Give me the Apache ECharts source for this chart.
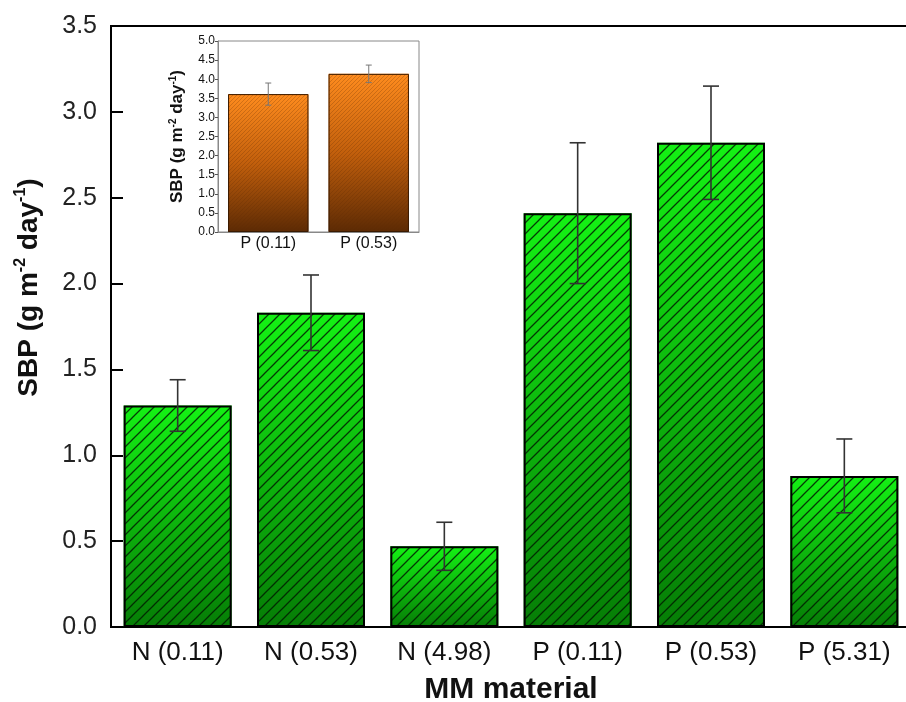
<!DOCTYPE html>
<html>
<head>
<meta charset="utf-8">
<script src="https://cdn.jsdelivr.net/npm/echarts@6/dist/echarts.min.js"></script>
<style>html,body{margin:0;padding:0;background:#fff}#c{width:906px;height:702px}</style>
</head>
<body>
<div id="c"></div>
<script>
// ---- data ----
var categories = ['N (0.11)', 'N (0.53)', 'N (4.98)', 'P (0.11)', 'P (0.53)', 'P (5.31)'];
var sbp = [1.29, 1.83, 0.47, 2.41, 2.82, 0.88];
var sbpErr = [0.15, 0.22, 0.14, 0.41, 0.33, 0.215];
var yTicks = ['0.0', '0.5', '1.0', '1.5', '2.0', '2.5', '3.0', '3.5'];

var insetCategories = ['P (0.11)', 'P (0.53)'];
var insetSbp = [3.61, 4.14];
var insetErr = [0.29, 0.23];

// ---- hatch patterns ----
function hatch(size, color, width) {
  var c = document.createElement('canvas');
  c.width = size; c.height = size;
  var g = c.getContext('2d');
  g.strokeStyle = color; g.lineWidth = width;
  g.beginPath();
  g.moveTo(-1, size + 1); g.lineTo(size + 1, -1);
  g.moveTo(-1, 1); g.lineTo(1, -1);
  g.moveTo(size - 1, size + 1); g.lineTo(size + 1, size - 1);
  g.stroke();
  return c;
}
var mainHatch = hatch(11, 'rgba(0,30,0,0.85)', 1.3);
var insetHatch = hatch(4, 'rgba(90,40,0,0.25)', 1);

function errRender(errArr, capHalf, color, lw) {
  return function (params, api) {
    var i = api.value(0);
    var v = api.value(1);
    var e = errArr[i];
    var hi = api.coord([i, v + e]);
    var lo = api.coord([i, v - e]);
    var st = {stroke: color, lineWidth: lw};
    return {
      type: 'group',
      children: [
        {type: 'line', shape: {x1: hi[0], y1: hi[1], x2: lo[0], y2: lo[1]}, style: st},
        {type: 'line', shape: {x1: hi[0] - capHalf, y1: hi[1], x2: hi[0] + capHalf, y2: hi[1]}, style: st},
        {type: 'line', shape: {x1: lo[0] - capHalf, y1: lo[1], x2: lo[0] + capHalf, y2: lo[1]}, style: st}
      ]
    };
  };
}

var FF = 'Liberation Sans, Arial, sans-serif';
var chart = echarts.init(document.getElementById('c'), null, {renderer: 'canvas'});
chart.setOption({
  animation: false,
  backgroundColor: '#fff',
  grid: [
    {left: 111, top: 26, width: 800, height: 601, show: true, borderColor: '#000', borderWidth: 2,
     backgroundColor: 'transparent', containLabel: false, outerBoundsMode: 'none'},
    {left: 218, top: 41, width: 201, height: 191, show: true, borderColor: '#888', borderWidth: 1,
     backgroundColor: '#fff', z: 10, containLabel: false, outerBoundsMode: 'none'}
  ],
  xAxis: [
    {
      type: 'category', gridIndex: 0, data: categories,
      axisLine: {lineStyle: {color: '#000', width: 2}},
      axisTick: {show: false},
      axisLabel: {fontFamily: FF, fontSize: 26, color: '#111', margin: 13},
      name: 'MM material', nameLocation: 'middle', nameGap: 48,
      nameTextStyle: {fontFamily: FF, fontSize: 30, fontWeight: 'bold', color: '#111'}
    },
    {
      type: 'category', gridIndex: 1, data: insetCategories, z: 11,
      axisLine: {lineStyle: {color: '#888', width: 1}},
      axisTick: {show: false},
      axisLabel: {fontFamily: FF, fontSize: 16, color: '#111', margin: 4}
    }
  ],
  yAxis: [
    {
      type: 'value', gridIndex: 0, min: 0, max: 3.5, interval: 0.5,
      axisLine: {show: true, lineStyle: {color: '#000', width: 2}},
      axisTick: {show: true, inside: true, length: 12, lineStyle: {color: '#000', width: 2}},
      splitLine: {show: false},
      axisLabel: {fontFamily: FF, fontSize: 25, color: '#222', margin: 14,
        formatter: function (v) { return yTicks[Math.round(v / 0.5)]; }},
      name: '{b|SBP (g m}{s|-2}{b| day}{s|-1}{b|)}', nameLocation: 'middle', nameGap: 66,
      nameTextStyle: {
        padding: [0, 0, 0, 78],
        rich: {
          b: {fontFamily: FF, fontSize: 28, fontWeight: 'bold', color: '#111', lineHeight: 32},
          s: {fontFamily: FF, fontSize: 16, fontWeight: 'bold', color: '#111', verticalAlign: 'top'}
        }
      }
    },
    {
      type: 'value', gridIndex: 1, min: 0, max: 5, interval: 0.5, z: 11,
      axisLine: {show: true, lineStyle: {color: '#888', width: 1}},
      axisTick: {show: true, length: 3, lineStyle: {color: '#555', width: 1}},
      splitLine: {show: false},
      axisLabel: {fontFamily: FF, fontSize: 12, color: '#111', margin: 3,
        formatter: function (v) { return v.toFixed(1); }},
      name: '{b|SBP (g m}{s|-2}{b| day}{s|-1}{b|)}', nameLocation: 'middle', nameGap: 31,
      nameTextStyle: {
        rich: {
          b: {fontFamily: FF, fontSize: 17, fontWeight: 'bold', color: '#111', lineHeight: 19},
          s: {fontFamily: FF, fontSize: 10, fontWeight: 'bold', color: '#111', verticalAlign: 'top'}
        }
      }
    }
  ],
  series: [
    {
      type: 'bar', xAxisIndex: 0, yAxisIndex: 0, data: sbp, barCategoryGap: '19%',
      itemStyle: {color: new echarts.graphic.LinearGradient(0, 0, 0, 1, [
        {offset: 0, color: '#14f214'}, {offset: 1, color: '#067d06'}])}
    },
    {
      type: 'bar', xAxisIndex: 0, yAxisIndex: 0, data: sbp, barGap: '-100%', barCategoryGap: '19%', silent: true,
      itemStyle: {color: {image: mainHatch, repeat: 'repeat'}, borderColor: '#000', borderWidth: 2}
    },
    {
      type: 'custom', xAxisIndex: 0, yAxisIndex: 0, z: 5,
      data: sbp.map(function (v, i) { return [i, v]; }),
      renderItem: errRender(sbpErr, 8, '#333', 1.6)
    },
    {
      type: 'bar', xAxisIndex: 1, yAxisIndex: 1, data: insetSbp, barCategoryGap: '20%', z: 12,
      itemStyle: {color: new echarts.graphic.LinearGradient(0, 0, 0, 1, [
        {offset: 0, color: '#ff8c1e'}, {offset: 0.5, color: '#c25f0c'}, {offset: 1, color: '#5c2a04'}])}
    },
    {
      type: 'bar', xAxisIndex: 1, yAxisIndex: 1, data: insetSbp, barGap: '-100%', barCategoryGap: '20%', silent: true, z: 12,
      itemStyle: {color: {image: insetHatch, repeat: 'repeat'}, borderColor: '#3a1a00', borderWidth: 1}
    },
    {
      type: 'custom', xAxisIndex: 1, yAxisIndex: 1, z: 13,
      data: insetSbp.map(function (v, i) { return [i, v]; }),
      renderItem: errRender(insetErr, 3, '#777', 1)
    }
  ]
});
</script>
</body>
</html>
